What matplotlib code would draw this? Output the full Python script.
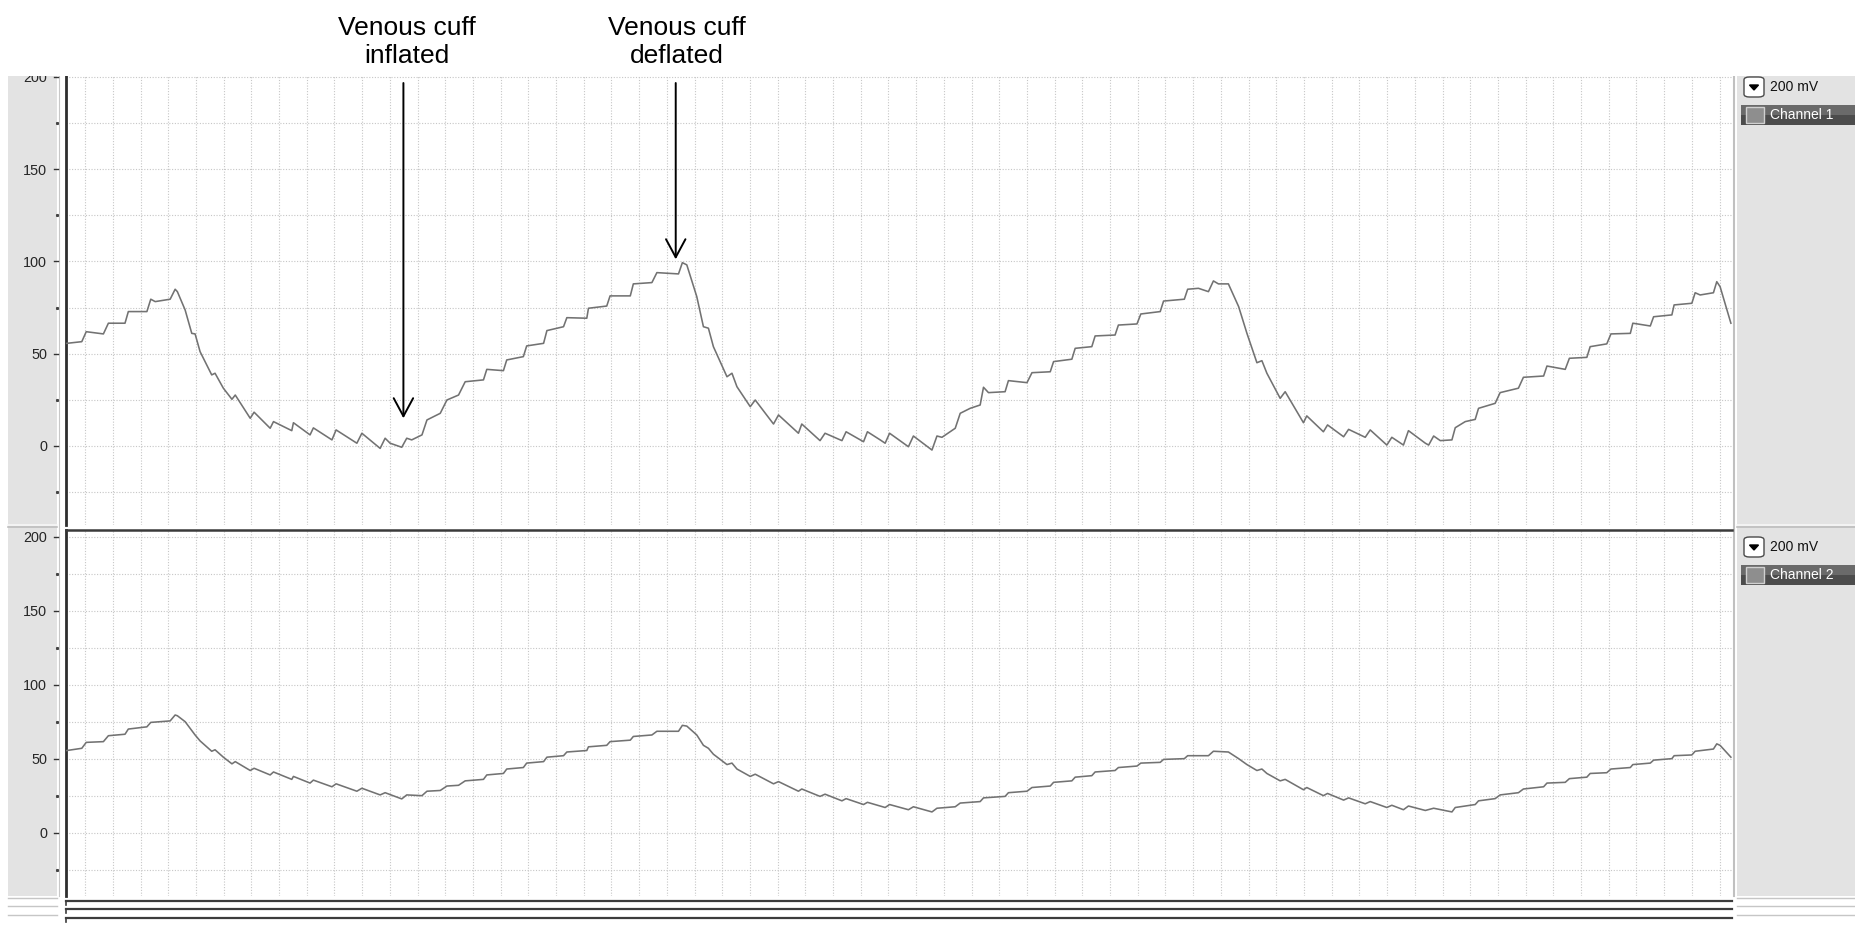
import matplotlib
matplotlib.use("Agg")
import matplotlib.pyplot as plt
from matplotlib.patches import Rectangle, FancyBboxPatch, Polygon
from matplotlib.lines import Line2D
from matplotlib.transforms import blended_transform_factory
import numpy as np

# time in grid divisions, values in chart units
t1 = [-0.66, -0.12, 0.04, 0.66, 0.84, 1.44, 1.56, 2.23, 2.37, 2.53,
      3.07, 3.25, 3.33, 3.61, 3.85, 3.97, 4.15, 4.57, 4.69, 4.99,
      5.30, 5.42, 5.96, 6.10, 6.68, 6.80, 7.46, 7.52, 8.12, 8.24,
      8.91, 9.06, 9.81, 9.99, 10.65, 10.83, 11.01, 11.43, 11.61, 11.79,
      12.16, 12.34, 12.82, 13.06, 13.48, 13.72, 14.38, 14.50, 15.10, 15.22,
      15.82, 15.94, 16.55, 16.67, 17.27, 17.39, 18.11, 18.17, 18.83, 18.95,
      19.68, 19.79, 20.46, 20.64, 21.42, 21.56, 21.72, 22.08, 22.32, 22.50,
      22.68, 23.17, 23.35, 23.53, 24.01, 24.19, 24.85, 25.03, 25.75, 25.87,
      26.53, 26.71, 27.32, 27.47, 28.10, 28.24, 28.70, 28.88, 29.04, 29.72,
      29.90, 30.57, 30.75, 30.93, 31.41, 31.59, 31.95, 32.31, 32.43, 32.61,
      33.21, 33.33, 34.00, 34.18, 34.84, 34.96, 35.62, 35.74, 36.34, 36.46,
      37.18, 37.30, 37.97, 38.11, 38.81, 38.93, 39.68, 39.80, 40.19, 40.55,
      40.73, 40.91, 41.27, 41.64, 41.94, 42.30, 42.48, 42.66, 43.14, 43.32,
      43.98, 44.10, 44.70, 44.85, 45.43, 45.61, 46.21, 46.39, 46.99, 47.17,
      47.59, 47.77, 48.38, 48.50, 48.68, 48.92, 49.34, 49.46, 49.82, 50.18,
      50.30, 50.90, 51.08, 51.74, 51.92, 52.65, 52.77, 53.43, 53.58, 54.21,
      54.33, 54.93, 55.08, 55.78, 55.87, 56.50, 56.62, 57.28, 57.36, 58.00,
      58.12, 58.30, 58.78, 58.90, 59.02, 59.41]
v1 = [55.6, 56.5, 61.9, 60.7, 66.5, 66.5, 72.8, 72.8, 79.5, 78.2,
      79.5, 84.9, 83.6, 73.7, 61.0, 60.7, 51.1, 38.5, 39.4, 31.3,
      25.3, 27.6, 15.0, 18.3, 9.6, 13.2, 8.3, 12.6, 6.0, 9.8,
      3.3, 8.7, 1.5, 6.9, -1.3, 4.2, 1.5, -0.7, 4.2, 3.3,
      6.0, 14.1, 17.7, 24.9, 27.6, 34.8, 35.8, 41.5, 40.8, 46.6,
      48.4, 54.2, 55.6, 62.5, 64.6, 69.5, 69.2, 74.6, 75.8, 81.3,
      81.3, 87.8, 88.5, 93.9, 93.2, 99.3, 98.1, 80.9, 64.6, 63.8,
      53.8, 37.5, 39.4, 32.1, 21.3, 24.9, 11.9, 16.8, 6.9, 11.9,
      2.9, 6.9, 2.9, 7.7, 2.3, 7.7, 3.3, 1.5, 6.9, -0.4,
      5.4, -2.2, 5.4, 4.7, 9.6, 17.7, 20.4, 22.2, 31.8, 28.9,
      29.4, 35.4, 34.3, 39.7, 40.2, 45.7, 47.0, 52.9, 53.8, 59.6,
      60.1, 65.5, 66.1, 71.5, 72.8, 78.5, 79.5, 84.9, 85.4, 83.6,
      89.4, 87.8, 87.8, 75.5, 61.0, 45.1, 46.2, 39.4, 25.8, 29.4,
      12.6, 16.3, 7.7, 11.4, 5.0, 9.0, 4.7, 8.7, 0.5, 4.7,
      0.5, 8.3, 1.5, 0.5, 5.4, 2.9, 3.3, 9.9, 13.2, 14.4,
      20.4, 23.1, 28.9, 31.3, 37.2, 37.9, 43.3, 41.5, 47.5, 48.0,
      53.8, 55.3, 60.7, 61.0, 66.5, 65.0, 70.0, 71.0, 76.4, 77.3,
      83.0, 81.8, 83.0, 89.0, 86.3, 66.5]

t2 = [-0.66, -0.12, 0.04, 0.66, 0.84, 1.44, 1.56, 2.23, 2.37, 3.07,
      3.25, 3.33, 3.61, 3.97, 4.15, 4.57, 4.69, 4.99, 5.30, 5.42,
      5.96, 6.10, 6.68, 6.80, 7.46, 7.52, 8.12, 8.24, 8.91, 9.06,
      9.81, 9.99, 10.65, 10.83, 11.43, 11.61, 12.16, 12.34, 12.82, 13.06,
      13.48, 13.72, 14.38, 14.50, 15.10, 15.22, 15.82, 15.94, 16.55, 16.67,
      17.27, 17.39, 18.11, 18.17, 18.83, 18.95, 19.68, 19.79, 20.46, 20.64,
      21.42, 21.56, 21.72, 22.08, 22.32, 22.50, 22.68, 23.17, 23.35, 23.53,
      24.01, 24.19, 24.85, 25.03, 25.75, 25.87, 26.53, 26.71, 27.32, 27.47,
      28.10, 28.24, 28.88, 29.04, 29.72, 29.90, 30.57, 30.75, 31.41, 31.59,
      32.31, 32.43, 33.21, 33.33, 34.00, 34.18, 34.84, 34.96, 35.62, 35.74,
      36.34, 36.46, 37.18, 37.30, 37.97, 38.11, 38.81, 38.93, 39.68, 39.80,
      40.55, 40.73, 41.27, 41.64, 41.94, 42.30, 42.48, 42.66, 43.14, 43.32,
      43.98, 44.10, 44.70, 44.85, 45.43, 45.61, 46.21, 46.39, 46.99, 47.17,
      47.59, 47.77, 48.38, 48.68, 49.34, 49.46, 49.82, 50.18, 50.30, 50.90,
      51.08, 51.74, 51.92, 52.65, 52.77, 53.43, 53.58, 54.21, 54.33, 54.93,
      55.08, 55.78, 55.87, 56.50, 56.62, 57.28, 57.36, 58.00, 58.12, 58.78,
      58.90, 59.02, 59.41]
v2 = [55.5, 57.0, 61.0, 61.5, 65.5, 66.5, 70.0, 71.5, 74.5, 75.5,
      79.5, 79.0, 75.0, 66.0, 62.0, 55.0, 56.0, 51.0, 46.5, 48.0,
      42.0, 43.5, 39.0, 41.0, 36.0, 38.0, 33.5, 35.5, 31.0, 33.0,
      28.0, 30.0, 25.5, 27.0, 22.8, 25.5, 25.0, 28.0, 28.5, 31.5,
      32.0, 35.0, 36.0, 39.0, 40.0, 43.0, 44.0, 47.0, 48.0, 51.0,
      52.0, 54.5, 55.5, 58.0, 59.0, 61.5, 62.5, 65.0, 66.0, 68.5,
      68.5, 72.5, 72.0, 66.0, 59.0, 57.0, 53.0, 46.0, 47.0, 43.0,
      38.0, 39.5, 33.0, 34.5, 28.0, 29.5, 24.5, 26.0, 21.5, 23.0,
      19.0, 20.5, 17.0, 19.0, 15.5, 17.5, 14.0, 16.5, 17.5, 20.0,
      21.0, 23.5, 24.5, 27.0, 28.0, 30.5, 31.5, 34.0, 35.0, 37.5,
      38.5, 41.0, 42.0, 44.0, 45.0, 47.0, 47.5, 49.5, 50.0, 52.0,
      52.0, 55.0, 54.5, 50.0, 46.0, 42.0, 43.0, 40.0, 35.0, 36.0,
      29.0, 30.5, 25.0, 26.5, 22.0, 23.5, 19.5, 21.0, 17.0, 18.5,
      15.5, 18.0, 15.0, 16.5, 14.0, 17.0, 18.0, 19.0, 21.5, 23.0,
      25.5, 27.0, 29.5, 31.0, 33.5, 34.0, 36.5, 37.5, 40.0, 40.5,
      43.0, 44.0, 46.0, 47.0, 49.0, 50.0, 52.0, 52.5, 55.0, 56.5,
      60.0, 59.0, 51.0]

y_ticks = [-25, 0, 25, 50, 75, 100, 125, 150, 175, 200]
channels = ["Channel 1", "Channel 2"]
range_text = "200 mV"
notes = ["Venous cuff\ninflated", "Venous cuff\ndeflated"]
note_t = [11.49, 21.32]
note_tip = [15.0, 101.1]

W, H = 1856, 926
fig = plt.figure(figsize=(W / 100, H / 100), dpi=100)
fig.patch.set_facecolor("white")


def fx(px):
    return px / W


def fy(py):
    return 1 - py / H


def fig_rect(x0, y0, x1, y1, **kw):
    r = Rectangle((fx(x0), fy(y1)), fx(x1) - fx(x0), fy(y0) - fy(y1),
                  transform=fig.transFigure, **kw)
    fig.patches.append(r)
    return r


def fig_line(xs, ys, **kw):
    fig.lines.append(Line2D([fx(x) for x in xs], [fy(y) for y in ys],
                            transform=fig.transFigure, **kw))


grey = "#e3e3e3"
trace = "#727272"
grid_kw = dict(color="#c6c6c6", linestyle=(0, (1, 1.5)), linewidth=0.8)

# side panels
fig_rect(8, 76, 57, 896, facecolor=grey, edgecolor="none", zorder=-2)
fig_rect(1737, 76, 1856, 896, facecolor=grey, edgecolor="none", zorder=-2)
fig_line([59, 59], [76, 896], color="#c8c8c8", lw=0.8, zorder=-1)
fig_line([1734, 1734], [76, 896], color="#c0c0c0", lw=1.5, zorder=-1)
for yy, cc in [(525, "#f7f7f7"), (527, "#bdbdbd")]:
    fig_line([8, 57], [yy, yy], color=cc, lw=1.2, zorder=-1)
    fig_line([1737, 1856], [yy, yy], color=cc, lw=1.2, zorder=-1)

panels = [(76, 525, t1, v1, (-42.8, 200.4)), (530, 896, t2, v2, (-42.8, 204.5))]
axes = []
for i, (top, bot, tt, vv, ylim) in enumerate(panels):
    ax = fig.add_axes([fx(66), fy(bot), fx(1732) - fx(66), fy(top) - fy(bot)])
    ax.set_facecolor("white")
    ax.plot(tt, vv, color=trace, lw=1.15, zorder=3)
    ax.set_xlim(-0.69, 59.45)
    ax.set_ylim(*ylim)
    ax.set_xticks(np.arange(0, 60))
    ax.set_yticks(y_ticks)
    ax.set_yticklabels([str(v) if v % 50 == 0 and v >= 0 else "" for v in y_ticks],
                       fontsize=10.4, family="Liberation Sans", color="#262626")
    ax.tick_params(axis="y", length=0, pad=13.5)
    ax.tick_params(axis="x", length=0, labelbottom=False)
    ax.grid(True, **grid_kw)
    ax.set_axisbelow(True)
    for s in ["right", "bottom", "top"]:
        ax.spines[s].set_visible(False)
    ax.spines["left"].set_color("#2e2e2e")
    ax.spines["left"].set_linewidth(2.0)
    if i == 1:
        ax.spines["top"].set_visible(True)
        ax.spines["top"].set_color("#3a3a3a")
        ax.spines["top"].set_linewidth(1.8)
    # little dashes / dots beside the labels
    tr = blended_transform_factory(ax.transAxes, ax.transData)
    for v in y_ticks:
        if v % 50 == 0 and v >= 0:
            ax.plot([-0.0073, -0.0050], [v, v], color="#333333", lw=1.0,
                    transform=tr, clip_on=False)
        else:
            ax.plot([-0.0054], [v], marker="s", ms=1.2, color="#444444",
                    transform=tr, clip_on=False)
    axes.append(ax)

    # range drop-down and channel bar on the right
    b0 = top + (1 if i == 0 else 7)
    box = FancyBboxPatch((fx(1744), fy(b0 + 20)), fx(20) - fx(0), fy(0) - fy(20),
                         boxstyle="round,pad=0,rounding_size=0.003",
                         transform=fig.transFigure, facecolor="white",
                         edgecolor="#4a4a4a", lw=1.0)
    fig.patches.append(box)
    tri = Polygon([(fx(1749.5), fy(b0 + 8)), (fx(1758.5), fy(b0 + 8)),
                   (fx(1754), fy(b0 + 13))], closed=True,
                  transform=fig.transFigure, facecolor="black", edgecolor="black")
    fig.patches.append(tri)
    fig.text(fx(1770), fy(b0 + 10), range_text, fontsize=10, family="Liberation Sans",
             color="#111111", va="center", ha="left")
    c0 = b0 + 28
    fig_rect(1741, c0, 1856, c0 + 10, facecolor="#6a6a6a", edgecolor="none")
    fig_rect(1741, c0 + 10, 1856, c0 + 20, facecolor="#4c4c4c", edgecolor="none")
    fig_rect(1746, c0 + 2, 1764, c0 + 18, facecolor="#8e8e8e", edgecolor="#d0d0d0", lw=1.0)
    fig.text(fx(1770), fy(c0 + 10), channels[i], fontsize=10, family="Liberation Sans",
             color="white", va="center", ha="left")

# cover above the top panel (cuts the 200 label like the screen grab)
fig_rect(0, 0, W, 76, facecolor="white", edgecolor="none", zorder=4)

# bottom scroll bars
for yy in [901, 909, 918]:
    fig_line([66, 1732], [yy, yy], color="#3c3c3c", lw=1.6, zorder=5)
    fig_line([66, 66], [yy, yy + 4], color="#3c3c3c", lw=1.2, zorder=5)
    fig_line([8, 57], [yy - 3, yy - 3], color="#c6c6c6", lw=1.0, zorder=5)
    fig_line([1737, 1856], [yy - 3, yy - 3], color="#c6c6c6", lw=1.0, zorder=5)

# annotations
for k in range(2):
    axes[0].annotate("", xy=(note_t[k], note_tip[k]), xytext=(note_t[k], 196.6),
                     arrowprops=dict(arrowstyle="->,head_length=0.65,head_width=0.35",
                                     color="black", lw=1.4, mutation_scale=20,
                                     shrinkA=0, shrinkB=0),
                     annotation_clip=False, zorder=6)
fig.text(fx(407), fy(42), notes[0], fontsize=19, family="Liberation Sans",
         ha="center", va="center", linespacing=1.25, zorder=10)
fig.text(fx(677), fy(42), notes[1], fontsize=19, family="Liberation Sans",
         ha="center", va="center", linespacing=1.25, zorder=10)

fig.savefig("out.png", dpi=100, facecolor="white")
